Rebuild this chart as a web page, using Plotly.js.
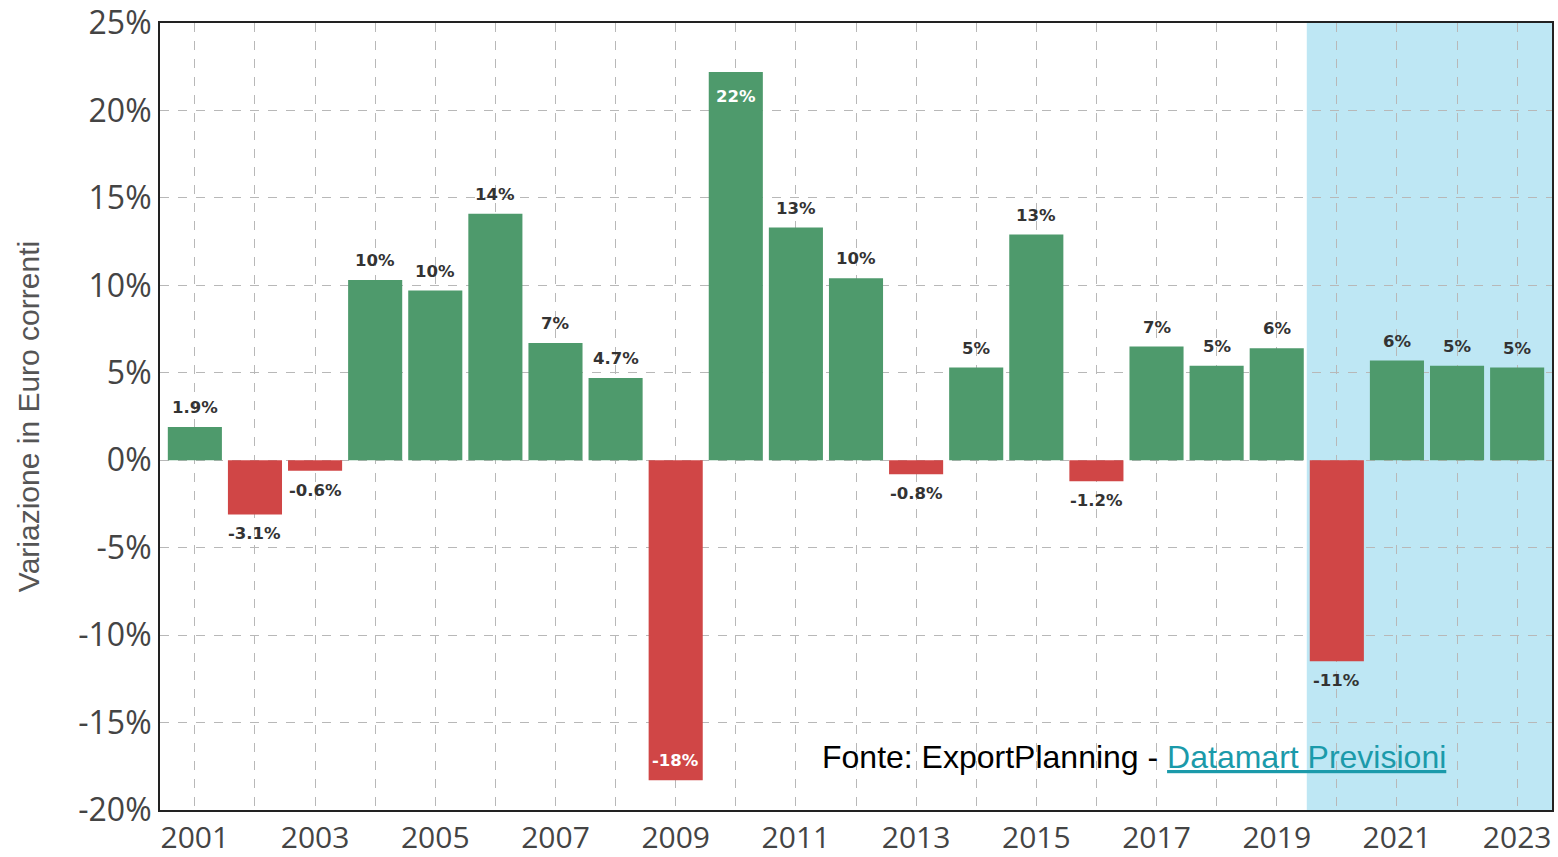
<!DOCTYPE html>
<html>
<head>
<meta charset="utf-8">
<script src="https://cdn.plot.ly/plotly-3.0.1.min.js"></script>
<style>html,body{margin:0;padding:0;background:#fff;}#chart{width:1558px;height:857px;}</style>
</head>
<body>
<div id="chart"></div>
<script>
// Data
const years = [2001,2002,2003,2004,2005,2006,2007,2008,2009,2010,2011,2012,2013,2014,2015,2016,2017,2018,2019,2020,2021,2022,2023];
const values = [1.9,-3.1,-0.6,10.3,9.7,14.1,6.7,4.7,-18.3,22.2,13.3,10.4,-0.8,5.3,12.9,-1.2,6.5,5.4,6.4,-11.5,5.7,5.4,5.3];
const labels = ["1.9%","-3.1%","-0.6%","10%","10%","14%","7%","4.7%","-18%","22%","13%","10%","-0.8%","5%","13%","-1.2%","7%","5%","6%","-11%","6%","5%","5%"];
const insideLabelYears = [2009, 2010];
const forecastStart = 2019.5;
const yTickVals = [-20,-15,-10,-5,0,5,10,15,20,25];
const yTickText = ["-20%","-15%","-10%","-5%","0%","5%","10%","15%","20%","25%"];
const xTickText = years.map(y => (y % 2 === 1 ? String(y) : ""));

const green = "#4e9a6c";
const red = "#d04646";

const trace = {
  type: "bar",
  x: years,
  y: values,
  width: 0.9,
  marker: {color: values.map(v => v >= 0 ? green : red), line: {width: 0}},
  hoverinfo: "skip"
};

const annotations = years.map((yr, i) => {
  const v = values[i];
  const inside = insideLabelYears.includes(yr);
  let yanchor, yshift, color;
  if (inside) {
    color = "#ffffff";
    if (v >= 0) { yanchor = "top"; yshift = -13; }
    else { yanchor = "bottom"; yshift = 8; }
  } else {
    color = "#333333";
    if (v >= 0) { yanchor = "bottom"; yshift = 8; }
    else { yanchor = "top"; yshift = -8; }
  }
  return {
    x: yr, y: v, xref: "x", yref: "y",
    text: "<b>" + labels[i] + "</b>",
    showarrow: false, xanchor: "center", yanchor: yanchor, yshift: yshift,
    font: {family: "DejaVu Sans", size: 16.5, color: color}
  };
});

annotations.push({
  xref: "paper", yref: "paper", x: 0.700, y: 0.067,
  xanchor: "center", yanchor: "middle", showarrow: false,
  text: "Fonte: ExportPlanning - <span style='color:#1b9aaa'><u>Datamart Previsioni</u></span>",
  font: {family: "Liberation Sans", size: 32, color: "#000000"}
});

const layout = {
  width: 1558, height: 857,
  margin: {l: 160, r: 6, t: 23, b: 47, pad: 0},
  paper_bgcolor: "#ffffff",
  plot_bgcolor: "#ffffff",
  showlegend: false,
  bargap: 0.1,
  xaxis: {
    range: [2000.42, 2023.58],
    tickmode: "array", tickvals: years, ticktext: xTickText,
    showgrid: true, gridcolor: "#b8b8b8", griddash: "dash", gridwidth: 1,
    showline: true, mirror: true, linecolor: "#222222", linewidth: 2,
    ticks: "", zeroline: false,
    tickfont: {family: "Open Sans", size: 30, color: "#444444"}
  },
  yaxis: {
    range: [-20, 25],
    tickmode: "array", tickvals: yTickVals, ticktext: yTickText,
    showgrid: true, gridcolor: "#b8b8b8", griddash: "dash", gridwidth: 1,
    showline: true, mirror: true, linecolor: "#222222", linewidth: 2,
    ticks: "", zeroline: false,
    tickfont: {family: "Open Sans", size: 32, color: "#444444"},
    title: {text: "Variazione in Euro correnti", standoff: 30,
            font: {family: "Liberation Sans", size: 30, color: "#555555"}}
  },
  shapes: [{
    type: "rect", xref: "x", yref: "paper",
    x0: forecastStart, x1: 2023.58, y0: 0, y1: 1,
    fillcolor: "#bee7f4", line: {width: 0}, layer: "below"
  }],
  annotations: annotations
};

Plotly.newPlot("chart", [trace], layout, {displayModeBar: false, staticPlot: true});
</script>
</body>
</html>
